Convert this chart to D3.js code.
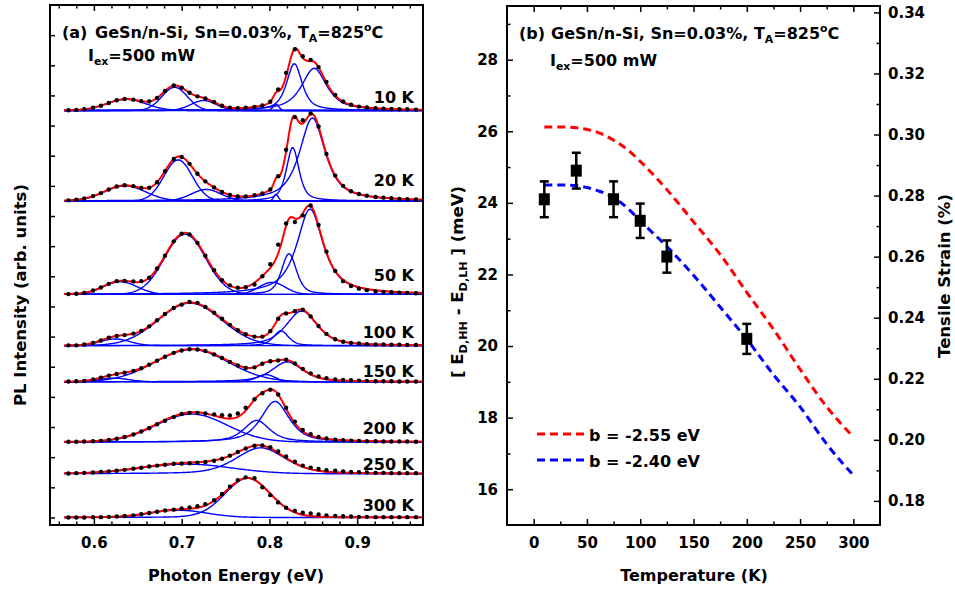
<!DOCTYPE html>
<html>
<head>
<meta charset="utf-8">
<script src="https://cdnjs.cloudflare.com/ajax/libs/d3/7.8.5/d3.min.js"></script>
<style>
  body { margin: 0; background: #fff; }
  svg { display: block; font-family: "DejaVu Sans", sans-serif; font-weight: bold; }
</style>
</head>
<body>
<div id="chart"></div>
<script>
// ---- panel (a): PL spectra ----
const tempLabels = ["10 K", "20 K", "50 K", "100 K", "150 K", "200 K", "250 K", "300 K"];
const offsets = [13.5, 10.5, 7.4, 5.7, 4.5, 2.5, 1.45, 0];

// fitted components: centre (eV), fwhm (eV), height (arb.), lorentzian fraction
const peakCenters = [
  [0.637, 0.692, 0.725, 0.8075, 0.8284, 0.851],
  [0.6355, 0.696, 0.728, 0.8075, 0.8265, 0.849],
  [0.630, 0.7038, 0.803, 0.8223, 0.8463],
  [0.624, 0.7095, 0.8132, 0.8368],
  [0.623, 0.7114, 0.796, 0.8204],
  [0.7114, 0.7855, 0.8064],
  [0.7057, 0.790],
  [0.6962, 0.7752]
];
const peakWidths = [
  [0.052, 0.034, 0.034, 0.008, 0.021, 0.034],
  [0.055, 0.038, 0.040, 0.006, 0.017, 0.035],
  [0.045, 0.055, 0.035, 0.020, 0.036],
  [0.040, 0.085, 0.020, 0.042],
  [0.040, 0.099, 0.025, 0.042],
  [0.095, 0.035, 0.038],
  [0.120, 0.066],
  [0.076, 0.061]
];
const peakHeights = [
  [0.37, 0.77, 0.33, 0.2, 1.55, 1.4],
  [0.5, 1.36, 0.38, 0.22, 1.77, 2.75],
  [0.42, 2.0, 0.4, 1.35, 2.83],
  [0.22, 1.41, 0.49, 1.15],
  [0.12, 1.07, 0.24, 0.66],
  [0.93, 0.72, 1.35],
  [0.32, 0.86],
  [0.24, 1.30]
];
const peakShapes = [
  [0, 0, 0, 0, 0.7, 0.8],
  [0, 0, 0, 0, 0.6, 0.8],
  [0, 0, 0, 0.5, 0.85],
  [0, 0, 0.5, 0.6],
  [0, 0, 0.3, 0.6],
  [0, 0.7, 0.65],
  [0, 0.35],
  [0, 0.1]
];

// measured points (arb. units above each baseline)
const dotEnergies = [0.571, 0.580, 0.589, 0.599, 0.608, 0.617, 0.626, 0.635, 0.645, 0.654,
  0.663, 0.672, 0.681, 0.691, 0.700, 0.709, 0.718, 0.727, 0.737, 0.746, 0.755, 0.764,
  0.773, 0.783, 0.792, 0.801, 0.810, 0.819, 0.829, 0.838, 0.847, 0.856, 0.865, 0.875,
  0.884, 0.893, 0.902, 0.911, 0.921, 0.930, 0.939, 0.948, 0.957, 0.967];
const dots10 = [0.01, 0.02, 0.04, 0.09, 0.16, 0.25, 0.34, 0.38, 0.36, 0.31, 0.30, 0.42, 0.65, 0.83, 0.76,
  0.59, 0.47, 0.40, 0.28, 0.16, 0.09, 0.08, 0.09, 0.12, 0.17, 0.29, 0.70, 1.25, 2.03, 1.80, 1.68, 1.44,
  0.95, 0.52, 0.30, 0.19, 0.13, 0.10, 0.08, 0.06, 0.05, 0.04, 0.04, 0.03];
const dots20 = [0.02, 0.04, 0.08, 0.16, 0.26, 0.38, 0.48, 0.52, 0.49, 0.43, 0.44, 0.62, 0.99, 1.39, 1.46,
  1.23, 0.90, 0.65, 0.45, 0.30, 0.20, 0.15, 0.15, 0.19, 0.25, 0.38, 0.82, 1.70, 2.78, 2.68, 2.90, 2.47,
  1.56, 0.84, 0.50, 0.32, 0.23, 0.17, 0.13, 0.11, 0.09, 0.07, 0.06, 0.05];
const dots50 = [0.01, 0.02, 0.05, 0.13, 0.23, 0.35, 0.44, 0.45, 0.43, 0.44, 0.55, 0.86, 1.28, 1.76, 2.01,
  1.99, 1.71, 1.28, 0.80, 0.47, 0.30, 0.22, 0.24, 0.33, 0.60, 1.00, 1.65, 2.35, 2.40, 2.62, 2.95, 2.30,
  1.42, 0.78, 0.44, 0.28, 0.19, 0.14, 0.10, 0.08, 0.07, 0.06, 0.05, 0.04];
const dots100 = [0.01, 0.01, 0.04, 0.09, 0.17, 0.26, 0.32, 0.35, 0.40, 0.49, 0.64, 0.84, 1.05, 1.25, 1.36,
  1.45, 1.42, 1.28, 1.09, 0.89, 0.69, 0.51, 0.38, 0.30, 0.30, 0.48, 0.89, 1.07, 1.14, 1.19, 0.97, 0.65,
  0.39, 0.21, 0.13, 0.09, 0.07, 0.05, 0.04, 0.04, 0.03, 0.03, 0.02, 0.02];
const dots150 = [0.01, 0.02, 0.03, 0.08, 0.14, 0.20, 0.26, 0.30, 0.36, 0.45, 0.57, 0.70, 0.83, 0.96, 1.04,
  1.08, 1.07, 1.02, 0.91, 0.79, 0.66, 0.54, 0.46, 0.48, 0.60, 0.68, 0.71, 0.73, 0.61, 0.43, 0.28, 0.18,
  0.12, 0.08, 0.06, 0.05, 0.04, 0.03, 0.02, 0.02, 0.02, 0.01, 0.01, 0.01];
const dots200 = [0.01, 0.01, 0.02, 0.03, 0.04, 0.07, 0.11, 0.17, 0.25, 0.35, 0.46, 0.59, 0.71, 0.83, 0.93,
  0.97, 0.97, 0.95, 0.92, 0.89, 0.88, 0.95, 1.14, 1.42, 1.62, 1.74, 1.58, 1.14, 0.68, 0.40, 0.26, 0.17,
  0.12, 0.08, 0.06, 0.05, 0.04, 0.03, 0.03, 0.02, 0.02, 0.02, 0.02, 0.01];
const dots250 = [0.01, 0.02, 0.03, 0.04, 0.06, 0.08, 0.10, 0.13, 0.17, 0.20, 0.24, 0.27, 0.30, 0.33, 0.34,
  0.35, 0.37, 0.39, 0.43, 0.50, 0.60, 0.72, 0.84, 0.93, 0.94, 0.88, 0.74, 0.57, 0.40, 0.27, 0.20, 0.16,
  0.12, 0.10, 0.08, 0.06, 0.05, 0.04, 0.03, 0.03, 0.02, 0.02, 0.02, 0.02];
const dots300 = [0.00, 0.00, 0.00, 0.01, 0.01, 0.02, 0.03, 0.05, 0.07, 0.11, 0.15, 0.19, 0.23, 0.26, 0.30,
  0.33, 0.37, 0.44, 0.57, 0.78, 1.02, 1.24, 1.33, 1.30, 1.00, 0.74, 0.50, 0.32, 0.22, 0.16, 0.13, 0.10,
  0.07, 0.05, 0.04, 0.03, 0.02, 0.02, 0.01, 0.01, 0.01, 0.01, 0.01, 0.01];
const dotSeries = [dots10, dots20, dots50, dots100, dots150, dots200, dots250, dots300];

// ---- panel (b): splitting vs temperature ----
const tempK = [10, 40, 75, 100, 125, 200];
const splitting = [24.1, 24.9, 24.1, 23.5, 22.5, 20.2];
const splitErr = [0.5, 0.5, 0.5, 0.48, 0.45, 0.42];

const modelT = [10, 25, 40, 50, 60, 75, 90, 100, 125, 150, 175, 200, 225, 250, 275, 300];
const splitB255 = [26.12, 26.12, 26.1, 26.05, 25.97, 25.75, 25.44, 25.16, 24.37, 23.47, 22.56, 21.5, 20.47, 19.35, 18.3, 17.46];
const splitB240 = [24.5, 24.5, 24.48, 24.43, 24.34, 24.15, 23.8, 23.5, 22.78, 21.98, 21.09, 20.19, 19.2, 18.3, 17.26, 16.39];

// ---------------------------------------------------------------
const svg = d3.select("#chart").append("svg").attr("width", 955).attr("height", 592);

function pv(e, c, w, h, eta) {
  const d = (e - c) / w;
  return h * (eta / (1 + 4 * d * d) + (1 - eta) * Math.exp(-4 * Math.LN2 * d * d));
}

function styleAxis(a) {
  a.select(".domain").remove();
  a.selectAll(".tick line").attr("stroke", "#000").attr("stroke-width", 1.5);
  a.selectAll(".tick text").attr("fill", "#000")
    .style("font-size", "15px").style("font-weight", "bold")
    .style("font-family", '"DejaVu Sans", sans-serif');
  return a;
}

function richText(parent, x, y, parts, size) {
  const t = parent.append("text").attr("x", x).attr("y", y).style("font-size", size + "px");
  let shift = 0;
  parts.forEach(([s, kind]) => {
    const target = kind === "sub" ? 4 : kind === "sup" ? -7 : 0;
    t.append("tspan").attr("dy", target - shift)
      .style("font-size", (kind ? size * 0.68 : size) + "px").text(s);
    shift = target;
  });
  return t;
}

const titleParts = [["GeSn/n-Si, Sn=0.03%, T"], ["A", "sub"], ["=825"], ["o", "sup"], ["C"]];
const iexParts = [["I"], ["ex", "sub"], ["=500 mW"]];

// ===== panel (a) =====
const xE = d3.scaleLinear().domain([0.55, 0.975]).range([50, 423]);
const yI = d3.scaleLinear().domain([-0.25, 17]).range([525, 5]);
const sampleE = d3.range(0.566, 0.9752, 0.001);

const pa = svg.append("g");
const line = d3.line().x(d => xE(d[0])).y(d => yI(d[1]));

tempLabels.forEach((lab, i) => {
  const comps = peakCenters[i].map((c, j) => ({
    c, w: peakWidths[i][j], h: peakHeights[i][j], eta: peakShapes[i][j]
  }));
  const fit = e => d3.sum(comps, p => pv(e, p.c, p.w, p.h, p.eta));
  comps.forEach(p => {
    pa.append("path")
      .attr("d", line(sampleE.map(e => [e, offsets[i] + pv(e, p.c, p.w, p.h, p.eta)])))
      .attr("fill", "none").attr("stroke", "#0000ff").attr("stroke-width", 1.4);
  });
  pa.append("path")
    .attr("d", line(sampleE.map(e => [e, offsets[i] + fit(e)])))
    .attr("fill", "none").attr("stroke", "#ff0000").attr("stroke-width", 2);
  pa.append("g").selectAll("circle")
    .data(dotEnergies.map((e, k) => [e, dotSeries[i][k]]))
    .join("circle")
    .attr("cx", d => xE(d[0])).attr("cy", d => yI(offsets[i] + d[1]))
    .attr("r", 2.2).attr("fill", "#000");
});

const labelLift = [8, 15, 13, 8, 5, 8, 4, 6.5];
tempLabels.forEach((lab, i) => {
  pa.append("text").attr("x", 414).attr("y", yI(offsets[i]) - labelLift[i])
    .attr("text-anchor", "end").style("font-size", "16px").text(lab);
});

const majorE = [0.6, 0.7, 0.8, 0.9];
const minorE = d3.range(28, 49).filter(k => k % 5 !== 0).map(k => k * 0.02);
styleAxis(pa.append("g").attr("transform", "translate(0,525)")
  .call(d3.axisBottom(xE).tickValues(majorE).tickSize(-6).tickPadding(12).tickFormat(d3.format(".1f"))));
styleAxis(pa.append("g").attr("transform", "translate(0,525)")
  .call(d3.axisBottom(xE).tickValues(minorE).tickSize(-3.5).tickFormat("")));
styleAxis(pa.append("g").attr("transform", "translate(0,5)")
  .call(d3.axisTop(xE).tickValues(majorE).tickSize(-6).tickFormat("")));
styleAxis(pa.append("g").attr("transform", "translate(0,5)")
  .call(d3.axisTop(xE).tickValues(minorE).tickSize(-3.5).tickFormat("")));
styleAxis(pa.append("g").attr("transform", "translate(50,0)")
  .call(d3.axisLeft(yI).tickValues(d3.range(0, 17)).tickSize(-5).tickFormat("")));

pa.append("rect").attr("x", 50).attr("y", 5).attr("width", 373).attr("height", 520)
  .attr("fill", "none").attr("stroke", "#000").attr("stroke-width", 2);

pa.append("text").attr("x", 62).attr("y", 38).style("font-size", "16px").text("(a)");
richText(pa, 95, 38, titleParts, 16);
richText(pa, 88, 61, iexParts, 16);

pa.append("text").attr("x", 236).attr("y", 581).attr("text-anchor", "middle")
  .style("font-size", "16px").text("Photon Energy (eV)");
pa.append("g").attr("transform", "translate(26,295) rotate(-90)")
  .append("text").attr("text-anchor", "middle").style("font-size", "16.5px")
  .text("PL Intensity (arb. units)");

// ===== panel (b) =====
const xT = d3.scaleLinear().domain([-25, 325]).range([507, 880]);
const yE = d3.scaleLinear().domain([15, 29.5]).range([525, 6]);
const yS = d3.scaleLinear().domain([0.1721, 0.3421]).range([525, 6]);
const pb = svg.append("g");

const dashLine = d3.line().x(d => xT(d[0])).y(d => yE(d[1])).curve(d3.curveMonotoneX);
pb.append("path").attr("d", dashLine(modelT.map((t, k) => [t, splitB255[k]])))
  .attr("fill", "none").attr("stroke", "#ff0000").attr("stroke-width", 3).attr("stroke-dasharray", "8,5");
pb.append("path").attr("d", dashLine(modelT.map((t, k) => [t, splitB240[k]])))
  .attr("fill", "none").attr("stroke", "#0000ff").attr("stroke-width", 3).attr("stroke-dasharray", "8,5");

const pts = pb.append("g").selectAll("g").data(tempK.map((t, k) => [t, splitting[k], splitErr[k]]))
  .join("g");
pts.append("line").attr("x1", d => xT(d[0])).attr("x2", d => xT(d[0]))
  .attr("y1", d => yE(d[1] - d[2])).attr("y2", d => yE(d[1] + d[2]))
  .attr("stroke", "#000").attr("stroke-width", 2.5);
[-1, 1].forEach(s => {
  pts.append("line").attr("x1", d => xT(d[0]) - 4.5).attr("x2", d => xT(d[0]) + 4.5)
    .attr("y1", d => yE(d[1] + s * d[2])).attr("y2", d => yE(d[1] + s * d[2]))
    .attr("stroke", "#000").attr("stroke-width", 2.5);
});
pts.append("rect").attr("x", d => xT(d[0]) - 5.5).attr("y", d => yE(d[1]) - 6)
  .attr("width", 11).attr("height", 12).attr("fill", "#000");

const majorT = d3.range(0, 301, 50);
const minorT = d3.range(25, 300, 50);
styleAxis(pb.append("g").attr("transform", "translate(0,525)")
  .call(d3.axisBottom(xT).tickValues(majorT).tickSize(-6).tickPadding(12)));
styleAxis(pb.append("g").attr("transform", "translate(0,525)")
  .call(d3.axisBottom(xT).tickValues(minorT).tickSize(-3.5).tickFormat("")));
styleAxis(pb.append("g").attr("transform", "translate(0,6)")
  .call(d3.axisTop(xT).tickValues(majorT).tickSize(-6).tickFormat("")));
styleAxis(pb.append("g").attr("transform", "translate(0,6)")
  .call(d3.axisTop(xT).tickValues(minorT).tickSize(-3.5).tickFormat("")));
styleAxis(pb.append("g").attr("transform", "translate(507,0)")
  .call(d3.axisLeft(yE).tickValues(d3.range(16, 29, 2)).tickSize(-6).tickPadding(9)));
styleAxis(pb.append("g").attr("transform", "translate(507,0)")
  .call(d3.axisLeft(yE).tickValues(d3.range(17, 30, 2)).tickSize(-3.5).tickFormat("")));
styleAxis(pb.append("g").attr("transform", "translate(880,0)")
  .call(d3.axisRight(yS).tickValues(d3.range(9, 18).map(k => k * 0.02)).tickSize(-6).tickPadding(8)
    .tickFormat(d3.format(".2f"))));
styleAxis(pb.append("g").attr("transform", "translate(880,0)")
  .call(d3.axisRight(yS).tickValues(d3.range(9, 17).map(k => k * 0.02 + 0.01)).tickSize(-3.5).tickFormat("")));

pb.append("rect").attr("x", 507).attr("y", 6).attr("width", 373).attr("height", 519)
  .attr("fill", "none").attr("stroke", "#000").attr("stroke-width", 2);

pb.append("text").attr("x", 519).attr("y", 39).style("font-size", "16px").text("(b)");
richText(pb, 551, 39, titleParts, 16);
richText(pb, 550, 66, iexParts, 16);

const legendItems = [["#ff0000", "b = -2.55 eV"], ["#0000ff", "b = -2.40 eV"]];
legendItems.forEach(([col, txt], k) => {
  const ly = 434 + k * 26;
  pb.append("line").attr("x1", 537).attr("x2", 584).attr("y1", ly).attr("y2", ly)
    .attr("stroke", col).attr("stroke-width", 3).attr("stroke-dasharray", "8,5");
  pb.append("text").attr("x", 589).attr("y", ly + 7).style("font-size", "16px").text(txt);
});

pb.append("text").attr("x", 694).attr("y", 581).attr("text-anchor", "middle")
  .style("font-size", "16px").text("Temperature (K)");
richText(pb.append("g").attr("transform", "translate(463,282) rotate(-90)"), 0, 0,
  [["[ E"], ["D,HH", "sub"], [" - E"], ["D,LH", "sub"], [" ] (meV)"]], 16.5)
  .attr("text-anchor", "middle");
pb.append("g").attr("transform", "translate(950,276) rotate(-90)")
  .append("text").attr("text-anchor", "middle").style("font-size", "16.5px")
  .text("Tensile Strain (%)");
</script>
</body>
</html>
